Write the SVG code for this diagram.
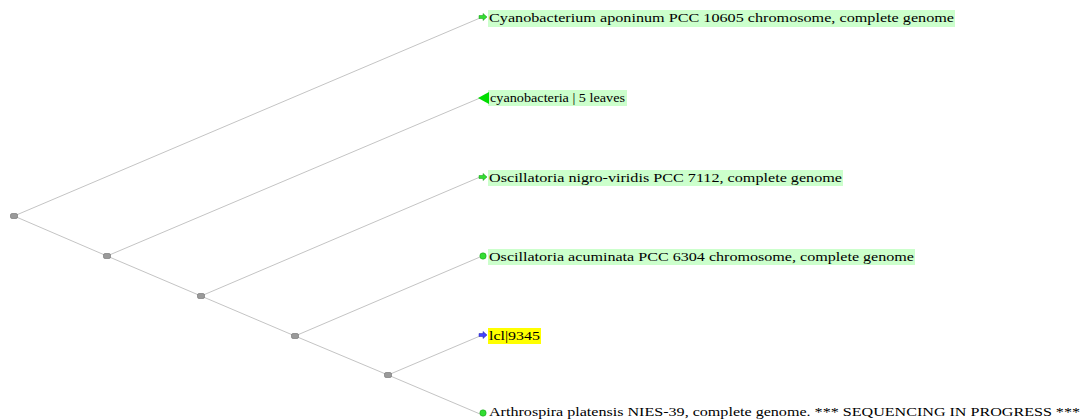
<svg xmlns="http://www.w3.org/2000/svg" width="1083" height="419" viewBox="0 0 1083 419">
<style>
.edge{stroke:#c4c4c4;stroke-width:1;fill:none}
.inode{fill:#9a9a9a;stroke:#6e6e6e;stroke-width:0.6}
.lbl{font-family:"Liberation Serif","Times New Roman",serif;font-size:12px;fill:#000}
.bg{fill:#ccffcc}
</style>
<defs>
<g id="garrow"><path d="M0,-1.5 L4,-1.5 L4,-3.5 L8,0 L4,3.5 L4,1.5 L0,1.5 Z" fill="#33dd33" stroke="#119911" stroke-width="0.5"/></g>
<g id="barrow"><path d="M0,-1.5 L4,-1.5 L4,-3.5 L8,0 L4,3.5 L4,1.5 L0,1.5 Z" fill="#4444ff" stroke="#2222aa" stroke-width="0.5"/></g>
<g id="gdot"><circle cx="4" cy="0" r="3.2" fill="#33dd33" stroke="#119911" stroke-width="0.5"/></g>
<rect id="nd" x="-3.5" y="-2.5" width="7" height="5" rx="1.5" class="inode"/>
</defs>
<g id="connectors">
<line class="edge" x1="14" y1="216" x2="480" y2="18"/>
<line class="edge" x1="14" y1="216" x2="107" y2="256"/>
<line class="edge" x1="107" y1="256" x2="480" y2="98"/>
<line class="edge" x1="107" y1="256" x2="201" y2="296"/>
<line class="edge" x1="201" y1="296" x2="480" y2="177"/>
<line class="edge" x1="201" y1="296" x2="295" y2="336"/>
<line class="edge" x1="295" y1="336" x2="480" y2="257"/>
<line class="edge" x1="295" y1="336" x2="388" y2="375"/>
<line class="edge" x1="388" y1="375" x2="480" y2="336"/>
<line class="edge" x1="388" y1="375" x2="480" y2="414"/>
</g>
<g id="n_root"><use href="#nd" x="14" y="216"/></g>
<g id="n_2"><use href="#nd" x="107" y="256"/></g>
<g id="n_3"><use href="#nd" x="201" y="296"/></g>
<g id="n_4"><use href="#nd" x="295" y="336"/></g>
<g id="n_5"><use href="#nd" x="388" y="375"/></g>
<g id="leaf1">
<rect class="bg" x="488" y="10" width="467" height="17"/>
<use href="#garrow" x="479" y="17"/>
<text class="lbl" x="489" y="22" textLength="465" lengthAdjust="spacingAndGlyphs">Cyanobacterium aponinum PCC 10605 chromosome, complete genome</text>
</g>
<g id="leaf2">
<rect class="bg" x="488" y="90" width="139" height="16"/>
<path d="M478,98 L489,92 L489,104 Z" fill="#00dd00"/>
<text class="lbl" x="490" y="102" textLength="135" lengthAdjust="spacingAndGlyphs">cyanobacteria | 5 leaves</text>
</g>
<g id="leaf3">
<rect class="bg" x="488" y="170" width="355" height="16"/>
<use href="#garrow" x="479" y="177"/>
<text class="lbl" x="489" y="182" textLength="353" lengthAdjust="spacingAndGlyphs">Oscillatoria nigro-viridis PCC 7112, complete genome</text>
</g>
<g id="leaf4">
<rect class="bg" x="488" y="249" width="427" height="16"/>
<use href="#gdot" x="479" y="256"/>
<text class="lbl" x="489" y="261" textLength="425" lengthAdjust="spacingAndGlyphs">Oscillatoria acuminata PCC 6304 chromosome, complete genome</text>
</g>
<g id="leaf5">
<rect x="488" y="328" width="53" height="16" fill="#ffff00"/>
<use href="#barrow" x="479" y="335"/>
<text class="lbl" x="489" y="340" textLength="51" lengthAdjust="spacingAndGlyphs">lcl|9345</text>
</g>
<g id="leaf6">
<use href="#gdot" x="479" y="413"/>
<text class="lbl" x="489" y="416" textLength="591" lengthAdjust="spacingAndGlyphs">Arthrospira platensis NIES-39, complete genome. *** SEQUENCING IN PROGRESS ***</text>
</g>
</svg>
